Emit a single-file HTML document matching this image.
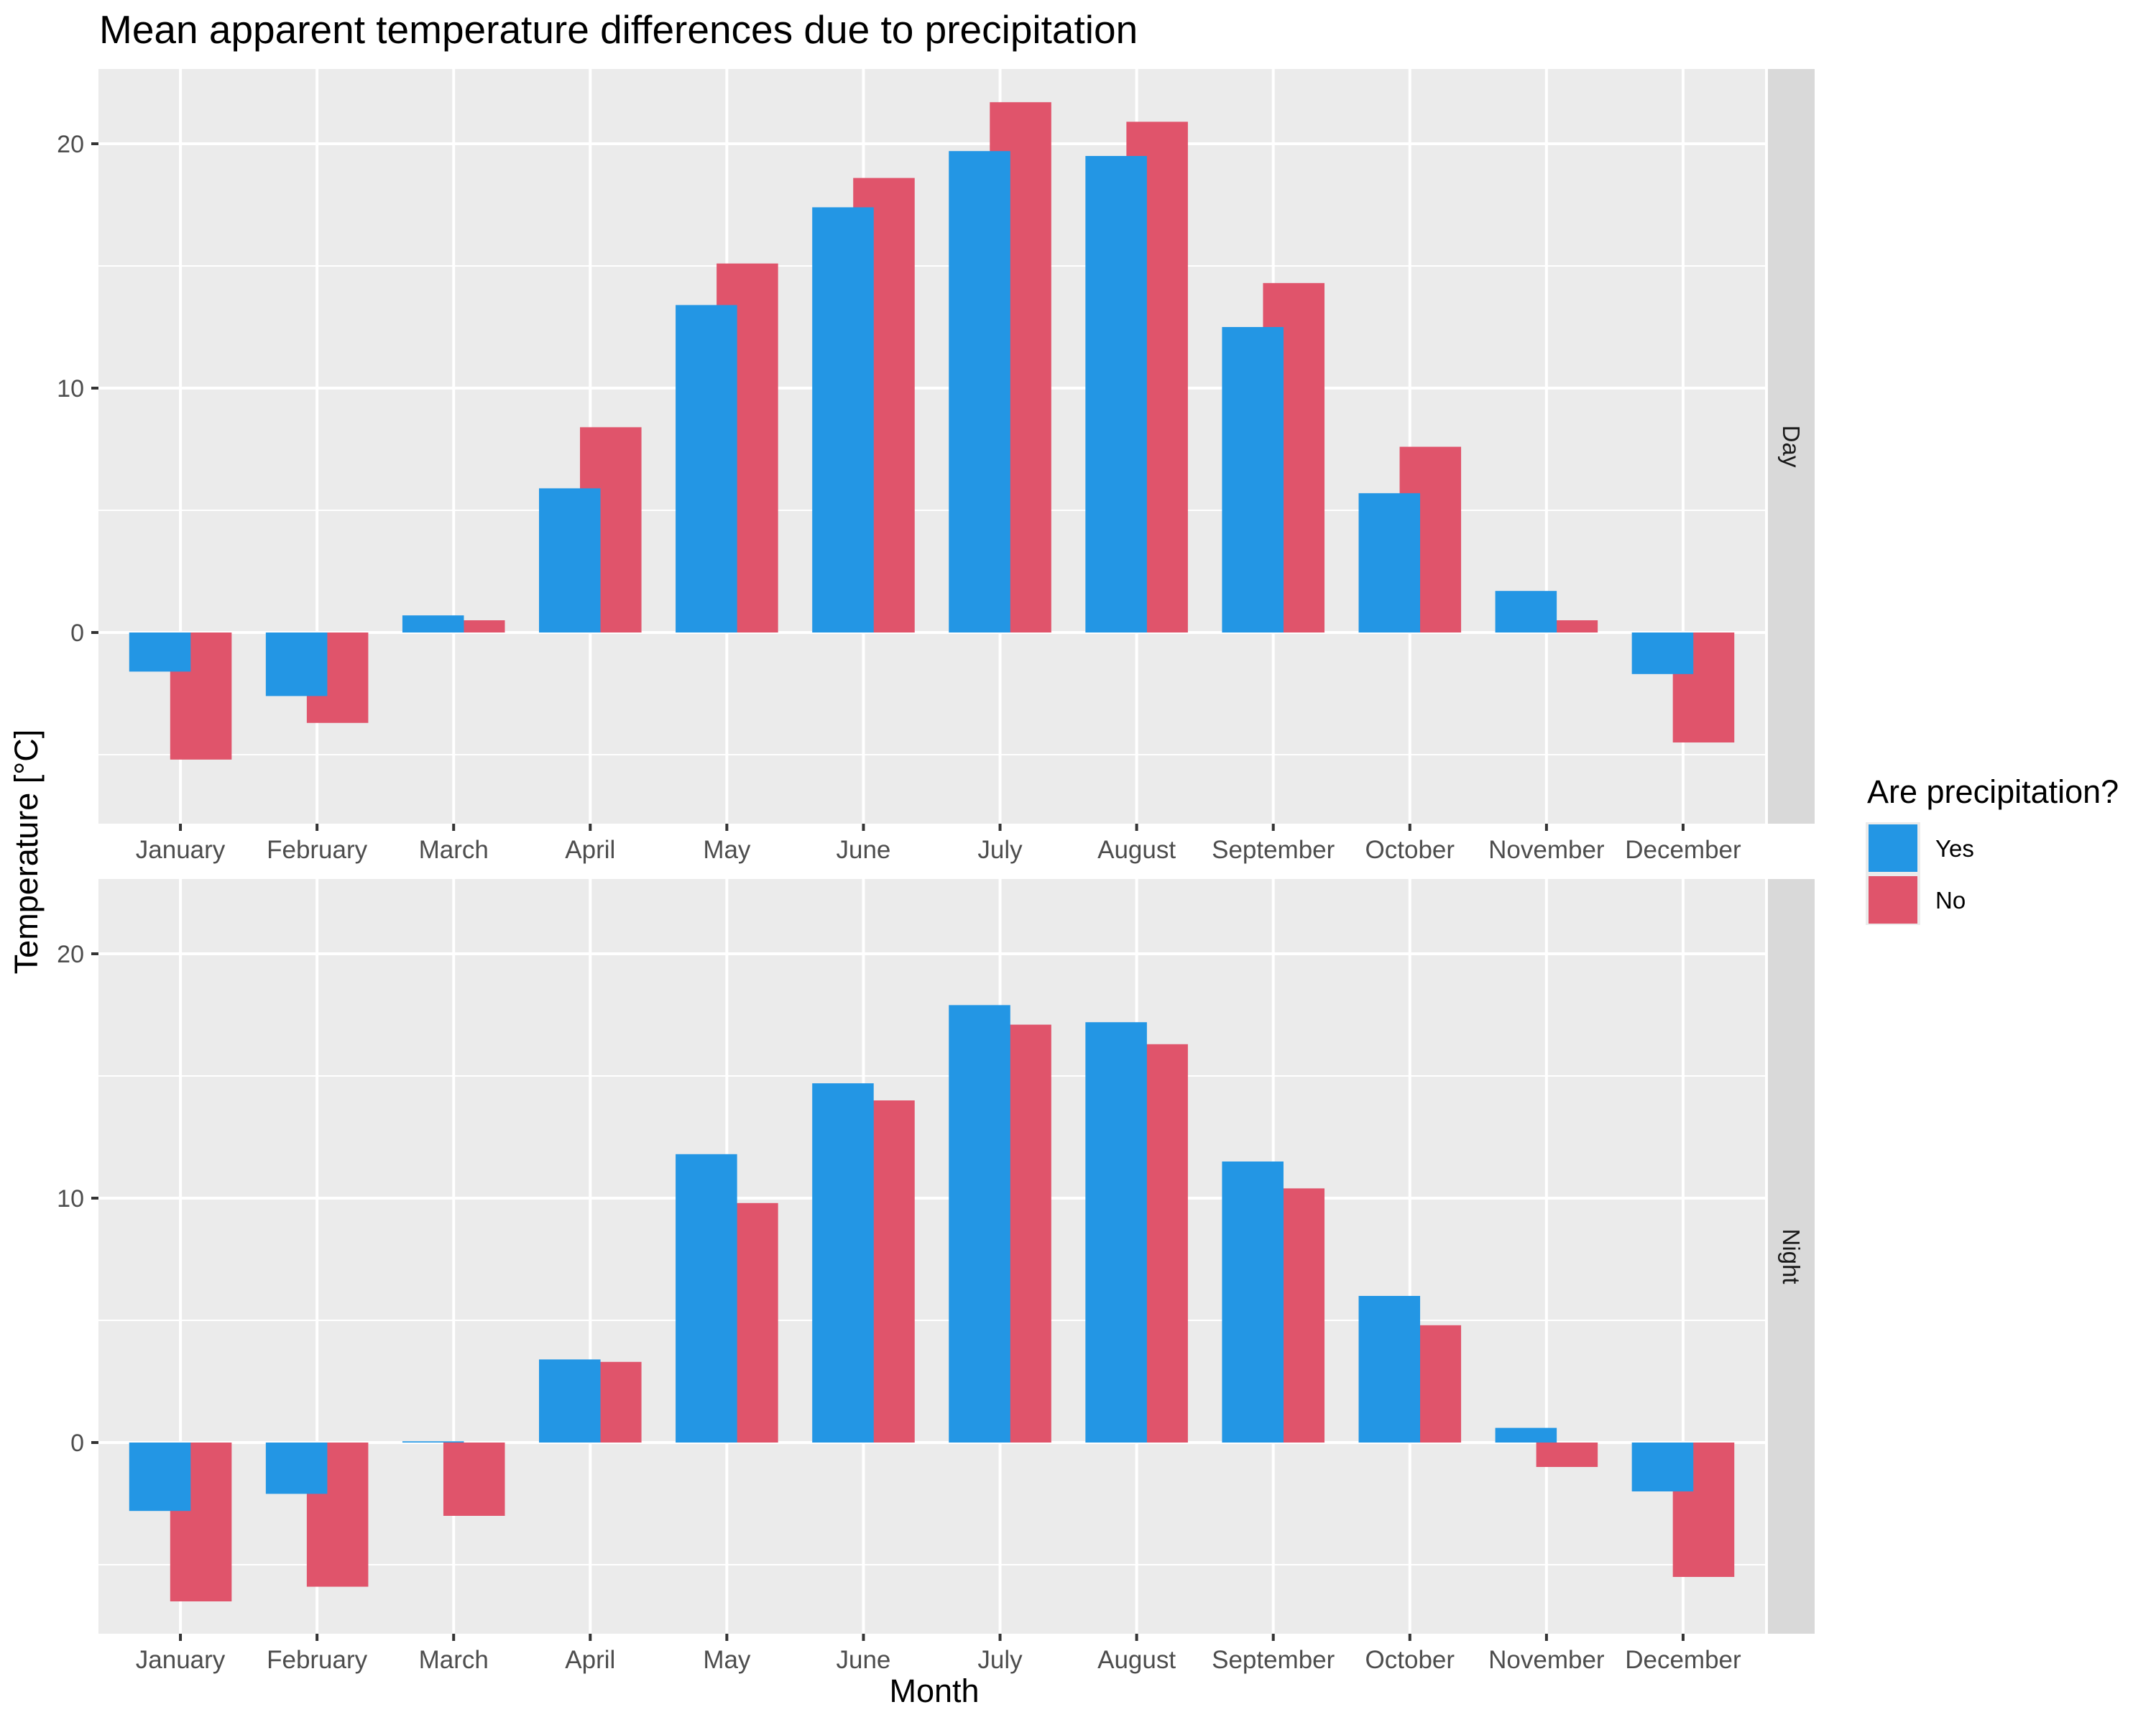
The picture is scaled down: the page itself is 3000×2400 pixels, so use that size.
<!DOCTYPE html>
<html><head><meta charset="utf-8"><style>
html,body{margin:0;padding:0;background:#fff}
svg{display:block;font-family:"Liberation Sans",Arial,sans-serif}
</style></head><body>
<svg id="chart" width="3000" height="2400" viewBox="0 0 3000 2400" xmlns="http://www.w3.org/2000/svg">
<text x="138" y="60" font-size="55" fill="#000">Mean apparent temperature differences due to precipitation</text>
<g id="panels"></g>
<text x="1300" y="2368" font-size="45" text-anchor="middle" fill="#000">Month</text>
<text transform="translate(52,1185) rotate(-90)" font-size="45" text-anchor="middle" fill="#000">Temperature [°C]</text>
<g>
<text x="2598" y="1117" font-size="45" fill="#000">Are precipitation?</text>
<rect x="2596" y="1144" width="76" height="143" fill="#ebebeb"/>
<rect x="2600" y="1147" width="68" height="66" fill="#2396e4"/>
<rect x="2600" y="1219" width="68" height="66" fill="#e0546b"/>
<text x="2693" y="1192" font-size="33" fill="#000">Yes</text>
<text x="2693" y="1264" font-size="33" fill="#000">No</text>
</g>
</svg>
<script>
const months = ["January","February","March","April","May","June","July","August","September","October","November","December"];
const dayYes = [-1.6,-2.6,0.7,5.9,13.4,17.4,19.7,19.5,12.5,5.7,1.7,-1.7];
const dayNo = [-5.2,-3.7,0.5,8.4,15.1,18.6,21.7,20.9,14.3,7.6,0.5,-4.5];
const nightYes = [-2.8,-2.1,0.05,3.4,11.8,14.7,17.9,17.2,11.5,6.0,0.6,-2.0];
const nightNo = [-6.5,-5.9,-3.0,3.3,9.8,14.0,17.1,16.3,10.4,4.8,-1.0,-5.5];
const yTicks = [0,10,20];
const yMinor = [-5,5,15];

const NS = "http://www.w3.org/2000/svg";
const root = document.getElementById('panels');
const left = 137, right = 2456, step = (right-left)/12.2;
function xScale(i){ return left + step*(0.6+i); }
const pxPerUnit = 34;
function mk(tag, attrs, parent){ const e=document.createElementNS(NS,tag); for(const k in attrs) e.setAttribute(k, attrs[k]); parent.appendChild(e); return e; }

function panel(name, top, zeroY, yes, no){
  const bottom = zeroY + 266;
  const g = mk('g',{},root);
  
  
  const y = v => zeroY - v*pxPerUnit;
  const bg = mk('rect',{x:left,y:top,width:right-left,height:bottom-top,fill:'#ebebeb'},g);
  
  
  yMinor.forEach(v=>{ mk('line',{x1:left,x2:right,y1:y(v),y2:y(v),stroke:'#fff','stroke-width':2},g); });
  yTicks.forEach(v=>{ mk('line',{x1:left,x2:right,y1:y(v),y2:y(v),stroke:'#fff','stroke-width':4},g); });
  months.forEach((m,i)=>{ mk('line',{x1:xScale(i),x2:xScale(i),y1:top,y2:bottom,stroke:'#fff','stroke-width':4},g); });
  const bw = step*0.45, off = step*0.15;
  months.forEach((m,i)=>{
    const v = no[i];
    const r = mk('rect',{x:xScale(i)+off-bw/2,y:Math.min(y(0),y(v)),width:bw,height:Math.abs(y(v)-y(0)),fill:'#e0546b'},g);
    
    
  });
  months.forEach((m,i)=>{
    const v = yes[i];
    const r = mk('rect',{x:xScale(i)-off-bw/2,y:Math.min(y(0),y(v)),width:bw,height:Math.max(Math.abs(y(v)-y(0)),1.5),fill:'#2396e4'},g);
    
    
  });
  yTicks.forEach(v=>{
    mk('line',{x1:left-10,x2:left,y1:y(v),y2:y(v),stroke:'#333','stroke-width':4},g);
    const t = mk('text',{x:left-20,y:y(v)+12,'font-size':34,'text-anchor':'end',fill:'#4d4d4d'},g);
    t.textContent = v;
    
    
  });
  months.forEach((m,i)=>{
    mk('line',{x1:xScale(i),x2:xScale(i),y1:bottom,y2:bottom+10,stroke:'#333','stroke-width':4},g);
    const t = mk('text',{x:xScale(i),y:bottom+48,'font-size':35,'text-anchor':'middle',fill:'#4d4d4d'},g);
    t.textContent = m;
    
    
  });
  const strip = mk('rect',{x:2460,y:top,width:65,height:bottom-top,fill:'#d9d9d9'},g);
  
  
  const cy = (top+bottom)/2;
  const st = mk('text',{x:0,y:0,transform:`translate(2481,${cy}) rotate(90)`,'font-size':33,'text-anchor':'middle',fill:'#1a1a1a'},g);
  st.textContent = name==='day'?'Day':'Night';
  
  
}
panel('day', 96, 880, dayYes, dayNo);
panel('night', 1223, 2007, nightYes, nightNo);
</script>
</body></html>
